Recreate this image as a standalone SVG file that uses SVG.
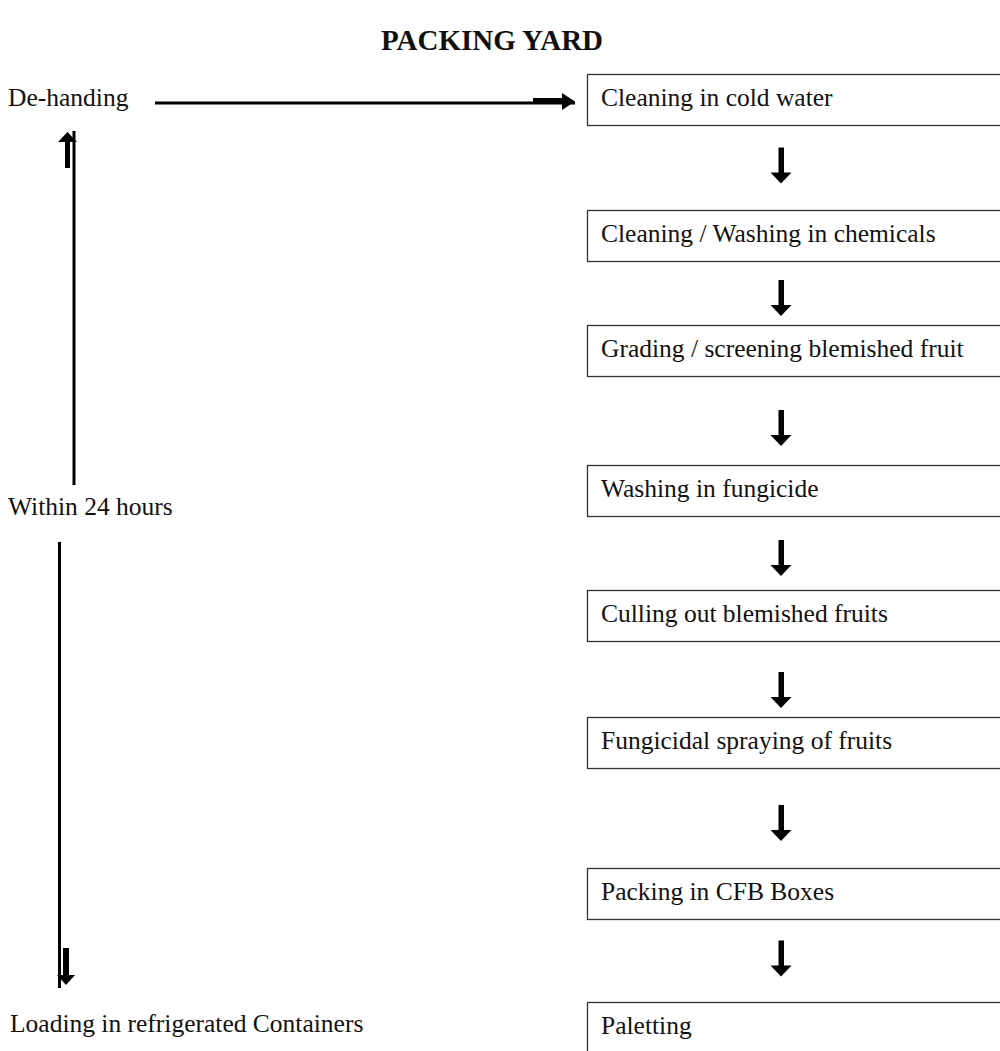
<svg xmlns="http://www.w3.org/2000/svg" width="1000" height="1051" viewBox="0 0 1000 1051">
<defs>
<style>
text{font-family:"Liberation Serif","Times New Roman",serif;font-size:25.5px;fill:#111}
.title{font-size:29px;font-weight:bold;text-anchor:middle}
.box{fill:#fff;stroke:#333;stroke-width:1.3}
.ln{stroke:#000;stroke-width:3;fill:none}
.ar{fill:#000}
</style>
<g id="darrow"><rect x="-2.5" y="0" width="5.5" height="26" class="ar"/><polygon points="-10.5,25 10.5,25 0,36" class="ar"/></g>
</defs>
<rect width="1000" height="1051" fill="#fff"/>
<text class="title" x="492" y="50">PACKING YARD</text>
<g id="n-dehanding"><text x="8" y="106">De-handing</text></g>
<g id="n-within"><text x="8" y="515">Within 24 hours</text></g>
<g id="n-loading"><text x="10" y="1032">Loading in refrigerated Containers</text></g>
<g id="n1"><rect class="box" x="587.5" y="74.5" width="420" height="51"/><text x="601" y="106">Cleaning in cold water</text></g>
<g id="n2"><rect class="box" x="587.5" y="210.5" width="420" height="51"/><text x="601" y="242">Cleaning / Washing in chemicals</text></g>
<g id="n3"><rect class="box" x="587.5" y="325.5" width="420" height="51"/><text x="601" y="357">Grading / screening blemished fruit</text></g>
<g id="n4"><rect class="box" x="587.5" y="465.5" width="420" height="51"/><text x="601" y="497">Washing in fungicide</text></g>
<g id="n5"><rect class="box" x="587.5" y="590.5" width="420" height="51"/><text x="601" y="622">Culling out blemished fruits</text></g>
<g id="n6"><rect class="box" x="587.5" y="717.5" width="420" height="51"/><text x="601" y="749">Fungicidal spraying of fruits</text></g>
<g id="n7"><rect class="box" x="587.5" y="868.5" width="420" height="51"/><text x="601" y="900">Packing in CFB Boxes</text></g>
<g id="n8"><rect class="box" x="587.5" y="1002.5" width="420" height="80"/><text x="601" y="1034">Paletting</text></g>
<g id="connectors">
<line class="ln" x1="155" y1="103" x2="575" y2="103"/>
<rect x="533" y="98" width="31" height="6" class="ar"/>
<polygon points="562,93 575,101.5 562,110" class="ar"/>
<line class="ln" x1="74" y1="131" x2="74" y2="485"/>
<rect x="65" y="141" width="5" height="27" class="ar"/>
<polygon points="58,142 77,142 67.5,132" class="ar"/>
<line class="ln" x1="59.5" y1="542" x2="59.5" y2="988"/>
<rect x="63" y="948" width="6" height="27" class="ar"/>
<polygon points="57,975 75,975 66,985" class="ar"/>
<use href="#darrow" x="781" y="147.5"/>
<use href="#darrow" x="781" y="280"/>
<use href="#darrow" x="781" y="410"/>
<use href="#darrow" x="781" y="540"/>
<use href="#darrow" x="781" y="672"/>
<use href="#darrow" x="781" y="805"/>
<use href="#darrow" x="781" y="940.5"/>
</g>
</svg>
